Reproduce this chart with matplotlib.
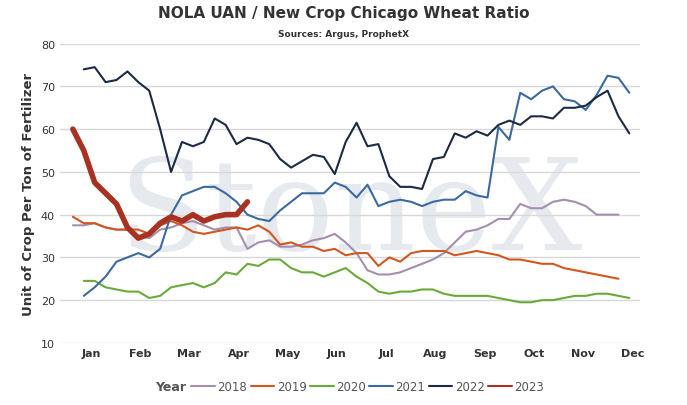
import matplotlib
matplotlib.use("Agg")
import matplotlib.pyplot as plt
import numpy as np

months = ["Jan", "Feb", "Mar", "Apr", "May", "Jun", "Jul", "Aug", "Sep", "Oct", "Nov", "Dec"]
years = ["2018", "2019", "2020", "2021", "2022", "2023"]
colors = ["#a48fae", "#d2571f", "#6aaa3a", "#3b6aa0", "#1c2a44", "#a83221"]

v2018 = [37.5, 37.5, 38, 37, 36.5, 36.5, 35, 34.5, 36.5, 37, 38, 38.5, 37.5, 36.5, 37, 37, 32, 33.5,
         34, 32.5, 32.5, 33, 34, 34.5, 35.5, 33.5, 31, 27, 26, 26, 26.5, 27.5, 28.5, 29.5, 31, 33.5, 36,
         36.5, 37.5, 39, 39, 42.5, 41.5, 41.5, 43, 43.5, 43, 42, 40, 40, 40]
v2019 = [39.5, 38, 38, 37, 36.5, 36.5, 36.5, 35.5, 37.5, 38.5, 37.5, 36, 35.5, 36, 36.5, 37, 36.5,
         37.5, 36, 33, 33.5, 32.5, 32.5, 31.5, 32, 30.5, 31, 31, 28, 30, 29, 31, 31.5, 31.5, 31.5, 30.5,
         31, 31.5, 31, 30.5, 29.5, 29.5, 29, 28.5, 28.5, 27.5, 27, 26.5, 26, 25.5, 25]
v2020 = [24.5, 24.5, 23, 22.5, 22, 22, 20.5, 21, 23, 23.5, 24, 23, 24, 26.5, 26, 28.5, 28, 29.5, 29.5,
         27.5, 26.5, 26.5, 25.5, 26.5, 27.5, 25.5, 24, 22, 21.5, 22, 22, 22.5, 22.5, 21.5, 21, 21, 21,
         21, 20.5, 20, 19.5, 19.5, 20, 20, 20.5, 21, 21, 21.5, 21.5, 21, 20.5]
v2021 = [21, 23, 25.5, 29, 30, 31, 30, 32, 40, 44.5, 45.5, 46.5, 46.5, 45, 43, 40, 39, 38.5, 41, 43,
         45, 45, 45, 47.5, 46.5, 44, 47, 42, 43, 43.5, 43, 42, 43, 43.5, 43.5, 45.5, 44.5, 44, 60.5,
         57.5, 68.5, 67, 69, 70, 67, 66.5, 64.5, 68, 72.5, 72, 68.5]
v2022 = [74, 74.5, 71, 71.5, 73.5, 71, 69, 60, 50, 57, 56, 57, 62.5, 61, 56.5, 58, 57.5, 56.5, 53, 51,
         52.5, 54, 53.5, 49.5, 57, 61.5, 56, 56.5, 49, 46.5, 46.5, 46, 53, 53.5, 59, 58, 59.5, 58.5,
         61, 62, 61, 63, 63, 62.5, 65, 65, 65.5, 67.5, 69, 63, 59]
v2023 = [60, 55, 47.5, 45, 42.5, 37, 34.5, 35.5, 38, 39.5, 38.5, 40, 38.5, 39.5, 40, 40, 43]
start_week = [1, 1, 2, 2, 2, 1]
series = [v2018, v2019, v2020, v2021, v2022, v2023]

fig = plt.figure(figsize=(6.87, 4.06), dpi=100)
ax = fig.add_axes([0.087, 0.153, 0.845, 0.737])

# faint watermark
ax.text(0.5, 0.43, "StoneX", transform=ax.transAxes, ha="center", va="center",
        fontsize=92, family="DejaVu Serif", color="#e6eaef", zorder=0)

for name, vals, s, c in zip(years, series, start_week, colors):
    w = np.arange(s, s + len(vals))
    lw = 4 if name == "2023" else 1.5
    ax.plot(w, vals, color=c, lw=lw, label=name, zorder=3, solid_capstyle="round")

ax.set_ylim(10, 80)
ax.set_xlim(-0.2, 53.0)
ax.set_yticks(range(10, 81, 10))
ax.set_xticks([2.65 + i * 4.51 for i in range(12)])
ax.set_xticklabels(months, fontsize=8, fontweight="bold", color="#333333")
ax.tick_params(axis="both", length=0, labelsize=8, colors="#333333")
ax.grid(axis="y", color="#d8d8d8", lw=1)
for sp in ax.spines.values():
    sp.set_visible(False)
ax.set_ylabel("Unit of Crop Per Ton of Fertilizer", fontsize=9.5, fontweight="bold", color="#333333")

fig.text(0.5, 0.955, "NOLA UAN / New Crop Chicago Wheat Ratio", ha="center",
         fontsize=11, fontweight="bold", color="#333333")
fig.text(0.5, 0.91, "Sources: Argus, ProphetX", ha="center", fontsize=6.5,
         fontweight="bold", color="#333333")

fig.text(0.226, 0.045, "Year", fontsize=9, fontweight="bold", color="#555555", va="center")
leg = fig.legend(loc="center left", bbox_to_anchor=(0.27, 0.045), ncol=6, frameon=False,
                 fontsize=8.5, handlelength=2.0, handletextpad=0.2, columnspacing=0.3,
                 borderpad=0)
for t in leg.get_texts():
    t.set_color("#555555")
for line in leg.get_lines():
    line.set_linewidth(1.5)

fig.savefig("out.png", dpi=100)
